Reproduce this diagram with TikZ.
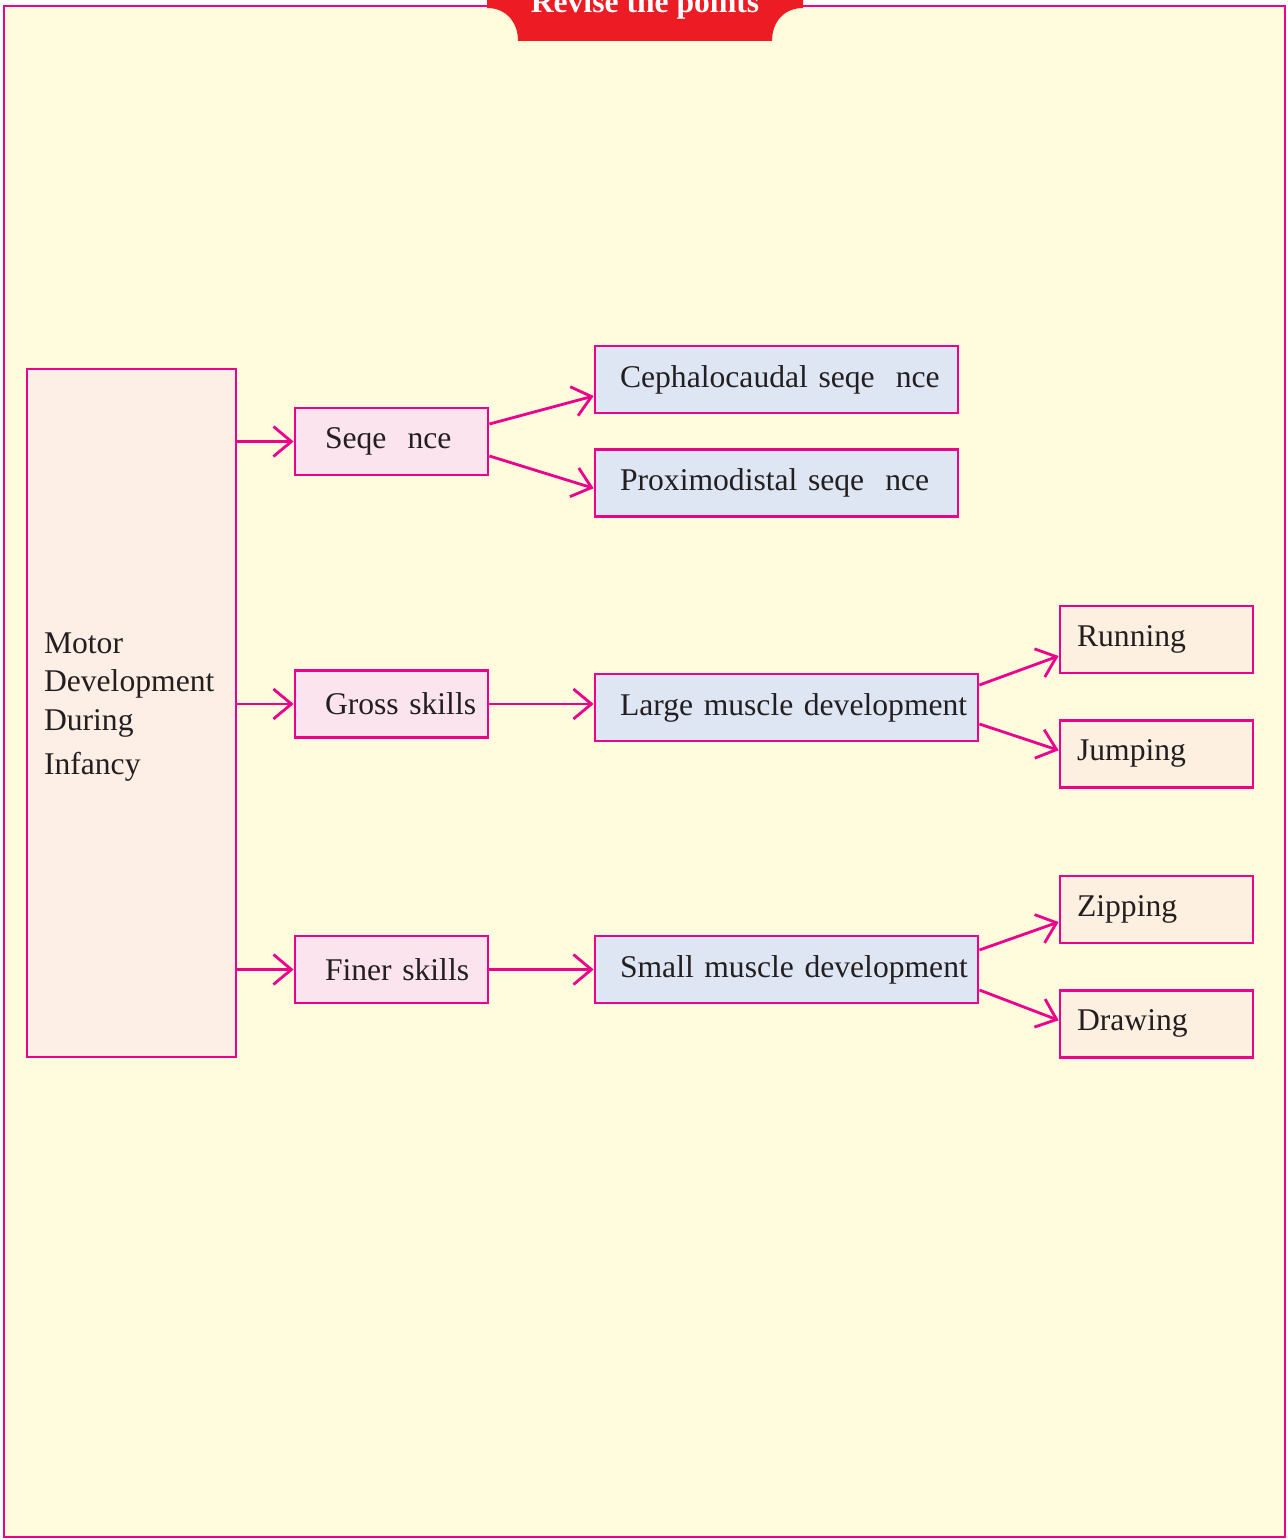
\documentclass[tikz,border=0pt]{standalone}
\usepackage{fontspec}
\setmainfont{Liberation Serif}
\usetikzlibrary{arrows.meta,positioning}

\definecolor{rimpink}{RGB}{236,0,140}
\definecolor{cream}{RGB}{255,252,222}
\definecolor{bannerred}{RGB}{237,28,36}
\definecolor{inkgrey}{RGB}{35,31,32}
\definecolor{motorfill}{RGB}{253,239,230}
\definecolor{pinkfill}{RGB}{252,228,238}
\definecolor{bluefill}{RGB}{222,230,244}
\definecolor{peachfill}{RGB}{253,240,224}

\begin{document}
\begin{tikzpicture}[
  x=0.02cm, y=-0.02cm,
  font=\fontsize{18}{22}\selectfont,
  box/.style={rectangle, draw=rimpink, line width=1.6pt, text=inkgrey, align=left, minimum height=1.34cm, inner ysep=0pt},
  midbox/.style={box, fill=pinkfill, text width=3.86cm, inner xsep=0pt, execute at begin node={\hspace*{0.6cm}}},
  sidebox/.style={box, fill=bluefill, inner xsep=0pt, execute at begin node={\hspace*{0.5cm}}},
  leafbox/.style={box, fill=peachfill, text width=3.86cm, inner xsep=0pt, execute at begin node={\hspace*{0.34cm}}},
  arr/.style={-{Straight Barb[length=0.36cm, width=0.6cm]}, draw=rimpink, line width=1.6pt}
]
\useasboundingbox (0,0) rectangle (1287,1540);
\clip (0,0) rectangle (1287,1540);

% page frame and banner
\draw[rimpink, fill=cream, line width=1.3pt] (4,6) rectangle (1285,1537);
\fill[bannerred] (487,-12) -- (487,8) .. controls (506,8) and (518,22) .. (518,41)
  -- (772,41) .. controls (772,22) and (784,8) .. (803,8) -- (803,-12) -- cycle;
\node[anchor=base, text=white, font=\fontsize{18}{22}\selectfont\bfseries] (title) at (645,13) {Revise the points};

% boxes
\node[box, fill=motorfill, minimum height=13.76cm, text width=3.5cm, inner xsep=0.34cm] (motor) at (131.5,713)
  {Motor\\Development\\During\\[3pt]Infancy\rule[-11pt]{0pt}{11pt}};

\node[midbox] (seq) at (391.5,441.5) {Seqe~~nce};
\node[midbox] (gross) at (391.5,704) {Gross skills};
\node[midbox] (finer) at (391.5,969.5) {Finer skills};

\node[sidebox, text width=7.26cm] (ceph) at (776.5,379.5) {Cephalocaudal seqe~~nce};
\node[sidebox, text width=7.26cm, below=0.67cm of ceph] (prox) {Proximodistal seqe~~nce};
\node[sidebox, text width=7.66cm] (large) at (786.5,707.5) {Large muscle development};
\node[sidebox, text width=7.66cm] (small) at (786.5,969.5) {Small muscle development};

\node[leafbox] (run) at (1156.5,639.5) {Running};
\node[leafbox, below=0.89cm of run] (jump) {Jumping};
\node[leafbox] (zip) at (1156.5,909.5) {Zipping};
\node[leafbox, below=0.89cm of zip] (drawing) {Drawing};

% connectors
\draw[arr] (motor.east |- seq.west) -- (seq.west);
\draw[arr] (motor.east |- gross.west) -- (gross.west);
\draw[arr] (motor.east |- finer.west) -- (finer.west);

\draw[arr] ([yshift=0.35cm]seq.east) -- ([yshift=-0.33cm]ceph.west);
\draw[arr] ([yshift=-0.29cm]seq.east) -- ([yshift=-0.11cm]prox.west);
\draw[arr] (gross.east) -- (gross.east -| large.west);
\draw[arr] (finer.east) -- (finer.east -| small.west);

\draw[arr] ([yshift=0.45cm]large.east) -- ([yshift=-0.33cm]run.west);
\draw[arr] ([yshift=-0.33cm]large.east) -- ([yshift=0.07cm]jump.west);
\draw[arr] ([yshift=0.39cm]small.east) -- ([yshift=-0.25cm]zip.west);
\draw[arr] ([yshift=-0.41cm]small.east) -- ([yshift=0.07cm]drawing.west);
\end{tikzpicture}
\end{document}
